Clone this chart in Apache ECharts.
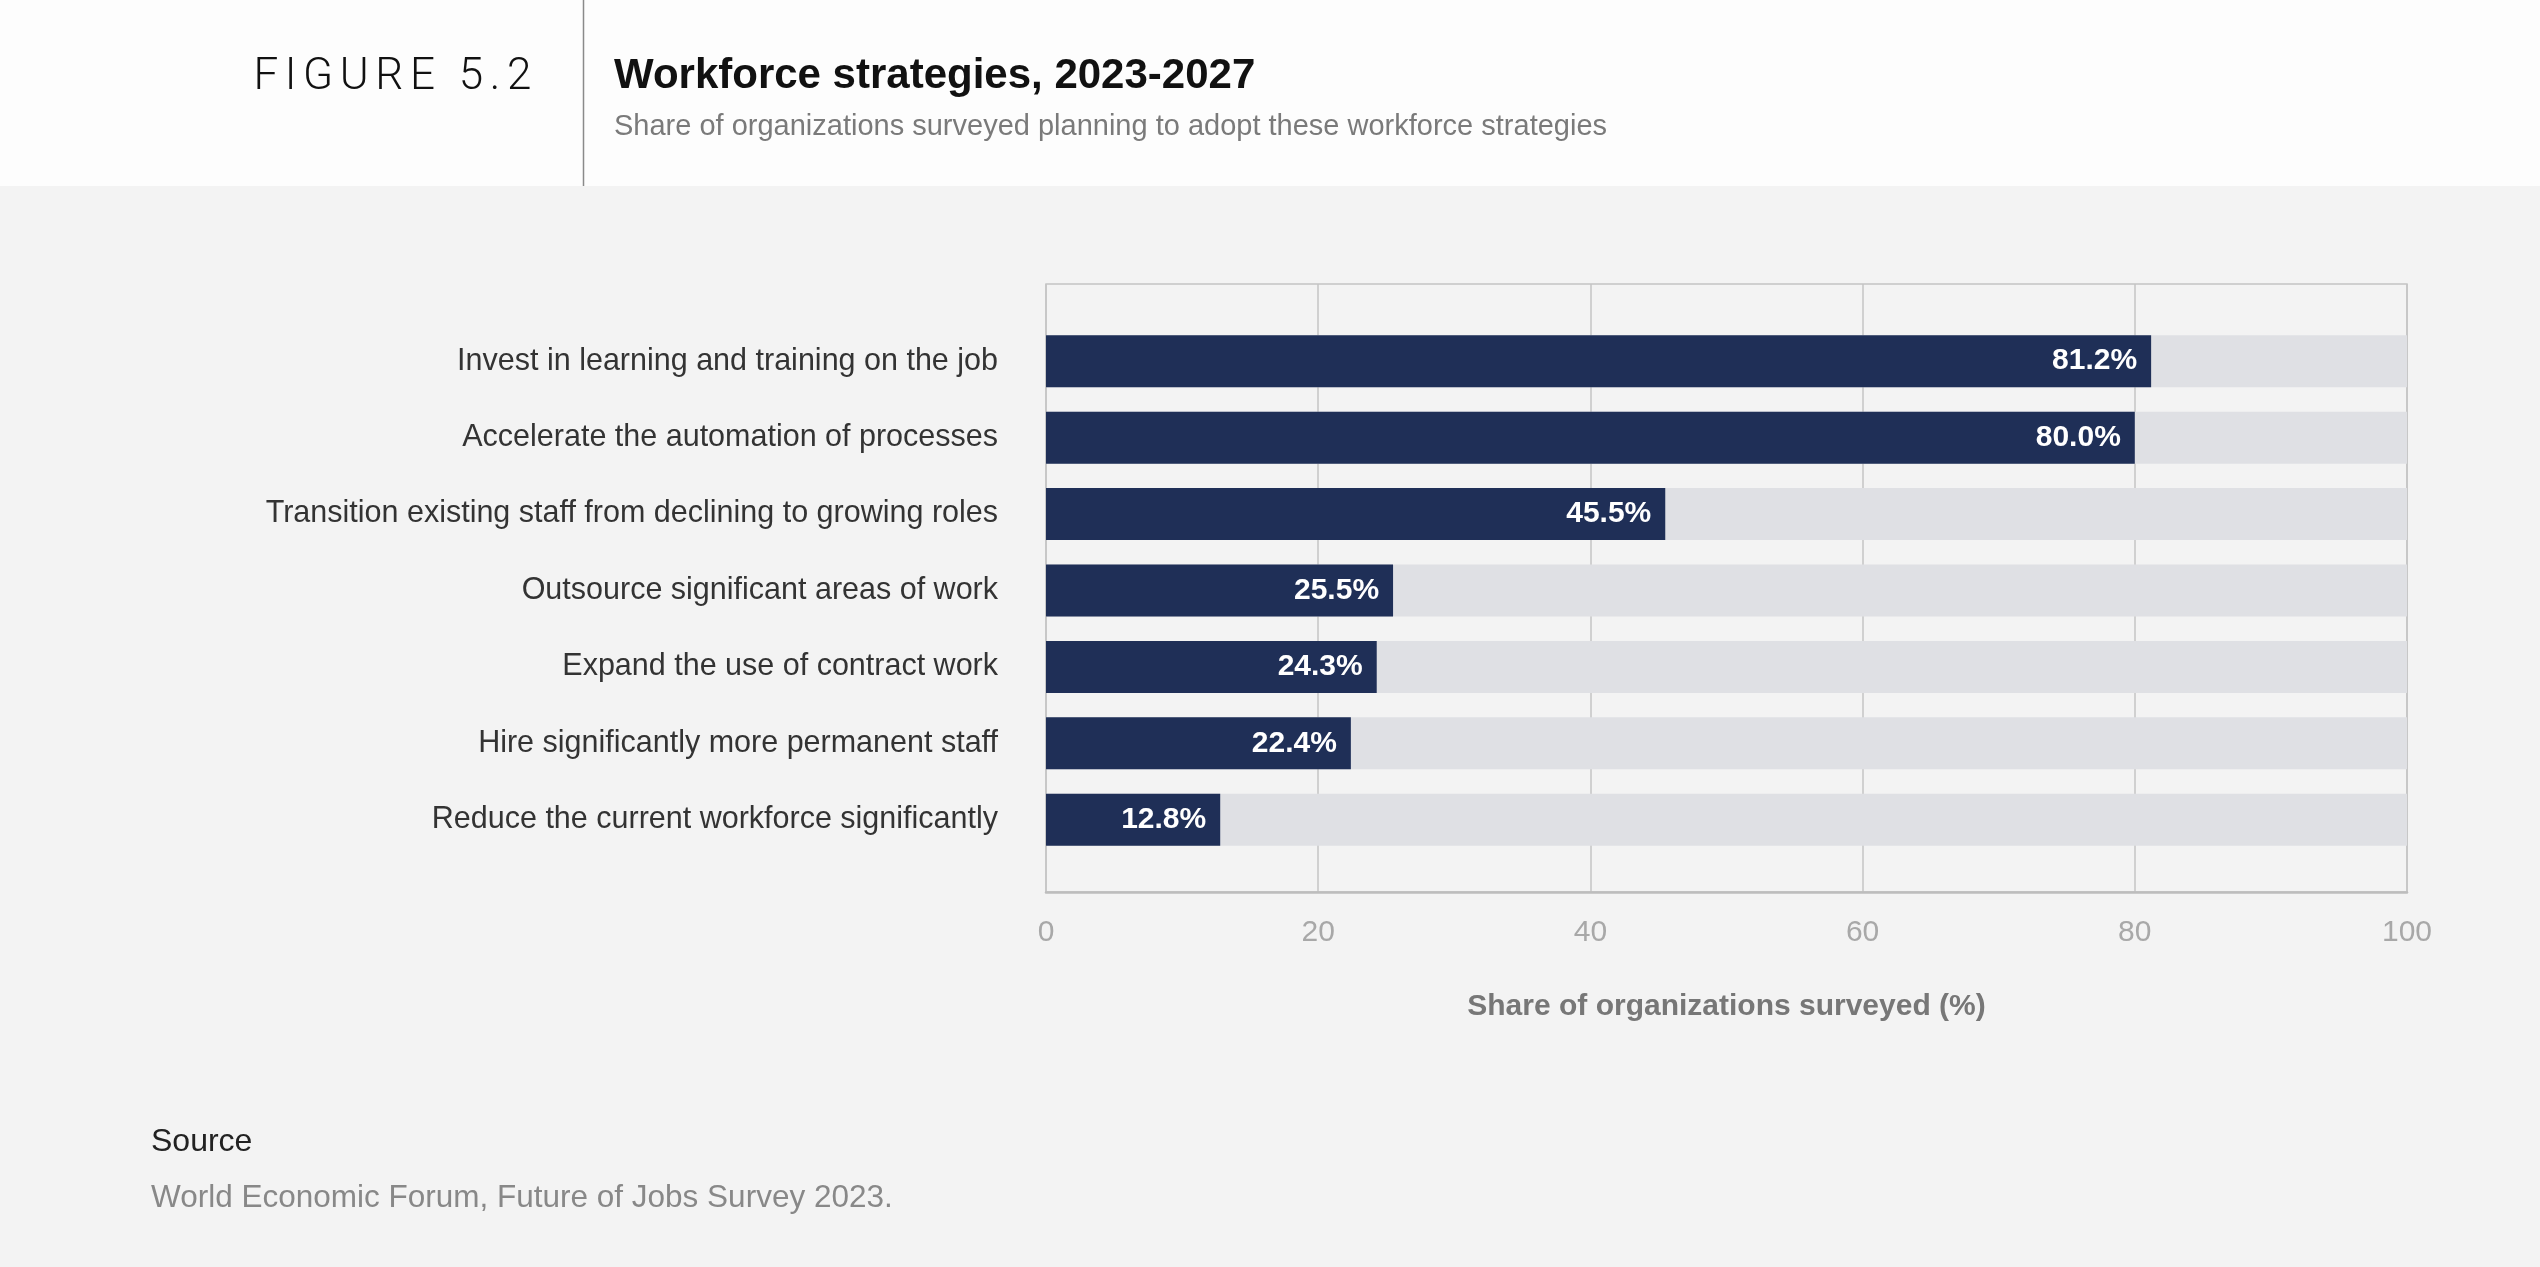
<!DOCTYPE html>
<html>
<head>
<meta charset="utf-8">
<script src="https://cdn.jsdelivr.net/npm/echarts@6/dist/echarts.min.js"></script>
<style>
html,body{margin:0;padding:0;background:#f3f3f3;}
#chart{position:absolute;left:0;top:0;width:2540px;height:1267px;}
#fig{position:absolute;right:calc(2540px - 538px);top:46px;font-family:Roboto,'Liberation Sans',sans-serif;font-weight:300;font-size:44px;letter-spacing:6.6px;color:#111;line-height:56px;white-space:nowrap;}
</style>
</head>
<body>
<div id="chart"></div>
<div id="fig">FIGURE 5.2</div>
<script>
const categories = [
  'Invest in learning and training on the job',
  'Accelerate the automation of processes',
  'Transition existing staff from declining to growing roles',
  'Outsource significant areas of work',
  'Expand the use of contract work',
  'Hire significantly more permanent staff',
  'Reduce the current workforce significantly'
];
const values = [81.2, 80.0, 45.5, 25.5, 24.3, 22.4, 12.8];
const xTicks = [0, 20, 40, 60, 80, 100];

const title = 'Workforce strategies, 2023-2027';
const subtitle = 'Share of organizations surveyed planning to adopt these workforce strategies';
const axisName = 'Share of organizations surveyed (%)';
const sourceHead = 'Source';
const sourceText = 'World Economic Forum, Future of Jobs Survey 2023.';

const xMax = xTicks[xTicks.length - 1];
const bgData = values.map(() => xMax);

const chart = echarts.init(document.getElementById('chart'));
const FONT = "'Liberation Sans', Arial, sans-serif";
chart.setOption({
  backgroundColor: '#f3f3f3',
  animation: false,
  textStyle: { fontFamily: FONT },
  graphic: [
    { type: 'rect', left: 0, top: 0, shape: { width: 2540, height: 186 }, style: { fill: '#fdfdfd' }, z: -10 },
    { type: 'line', shape: { x1: 583.5, y1: 0, x2: 583.5, y2: 186 }, style: { stroke: '#8a8a8a', lineWidth: 1.5 } },
    { type: 'text', left: 614, top: 55, style: { text: title, fontFamily: FONT, fontSize: 42, fontWeight: 'bold', fill: '#111' } },
    { type: 'text', left: 614, top: 112, style: { text: subtitle, fontFamily: FONT, fontSize: 29, fill: '#7a7a7a' } },
    { type: 'text', left: 151, top: 1126, style: { text: sourceHead, fontFamily: FONT, fontSize: 32, fill: '#222' } },
    { type: 'text', left: 151, top: 1182, style: { text: sourceText, fontFamily: FONT, fontSize: 31.5, fill: '#888' } }
  ],
  grid: [
    { left: 1046, top: 284, width: 1361, height: 608,
      show: true, borderColor: '#c4c4c4', borderWidth: 1.5, backgroundColor: 'transparent' },
    { left: 1046, top: 323, width: 1361, height: 535 }
  ],
  xAxis: [
    {
      gridIndex: 0, type: 'value', min: 0, max: xMax, interval: 20,
      axisLine: { show: true, lineStyle: { color: '#bdbdbd', width: 2.5 } },
      axisTick: { show: false },
      splitLine: { show: true, lineStyle: { color: '#c4c4c4', width: 1.5 } },
      axisLabel: { fontSize: 30, color: '#a8a8a8', margin: 26, fontFamily: FONT },
      name: axisName, nameLocation: 'middle', nameGap: 100,
      nameTextStyle: { fontSize: 30, fontWeight: 'bold', color: '#777', fontFamily: FONT }
    },
    {
      gridIndex: 1, type: 'value', min: 0, max: xMax, interval: 20, show: false,
      splitLine: { show: false }
    }
  ],
  yAxis: [
    { gridIndex: 0, type: 'value', min: 0, max: 1, show: false, splitLine: { show: false } },
    {
      gridIndex: 1, type: 'category', data: categories, inverse: true,
      axisLine: { show: false }, axisTick: { show: false }, splitLine: { show: false },
      axisLabel: { fontSize: 30.5, color: '#333', margin: 48, fontFamily: FONT, interval: 0 }
    }
  ],
  series: [
    {
      type: 'bar', xAxisIndex: 1, yAxisIndex: 1, data: bgData, barWidth: 52, silent: true, z: 1,
      itemStyle: { color: '#dfe0e4' }
    },
    {
      type: 'bar', xAxisIndex: 1, yAxisIndex: 1, data: values, barWidth: 52, barGap: '-100%', z: 2,
      itemStyle: { color: '#1f2f57' },
      label: {
        show: true, position: 'insideRight', distance: 14,
        formatter: p => p.value.toFixed(1) + '%',
        fontSize: 30, fontWeight: 'bold', color: '#fff', fontFamily: FONT
      }
    }
  ]
});
</script>
</body>
</html>
